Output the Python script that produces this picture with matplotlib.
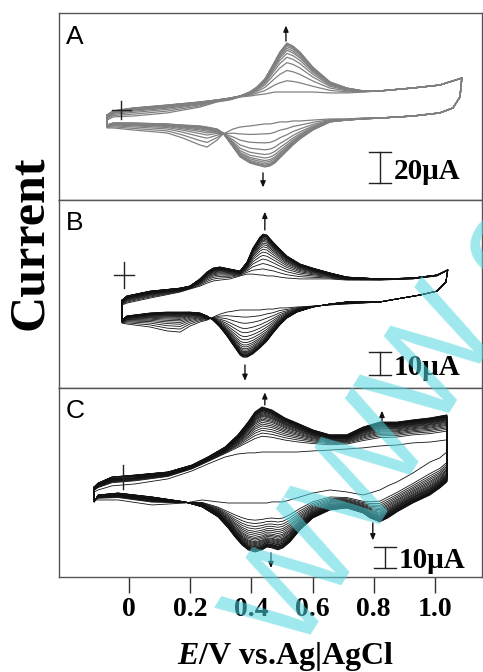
import numpy as np
import matplotlib
matplotlib.use("Agg")
import matplotlib.pyplot as plt

plt.rcParams["mathtext.fontset"] = "custom"
plt.rcParams["mathtext.it"] = "Liberation Serif:italic:bold"
plt.rcParams["mathtext.rm"] = "Liberation Serif:bold"

# ---- Panel A (gray curves), potential in V, current in uA ----
a_e_up = [-0.072, -0.052, 0.013, 0.124, 0.232, 0.288, 0.330, 0.363, 0.395, 0.418, 0.444, 0.461,
          0.477, 0.493, 0.516, 0.536, 0.559, 0.601, 0.657, 0.712, 0.765, 0.820, 0.928, 1.016, 1.088]
a_up_first = [-6.5, -4.5, -3.9, -1.9, 1.9, 5.2, 6.5, 8.4, 9.0, 9.7, 10.3, 11.0,
              11.6, 11.6, 11.6, 11.6, 11.6, 11.6, 11.0, 11.0, 11.6, 12.3, 14.2, 16.1, 20.6]
a_up_last = [-3.2, -0.6, 1.3, 3.2, 5.2, 6.5, 7.7, 9.0, 11.6, 14.8, 20.0, 25.8,
             31.6, 37.4, 43.2, 41.3, 37.4, 27.7, 18.1, 14.2, 12.3, 12.3, 14.2, 16.1, 20.6]
a_e_dn = [1.088, 1.082, 1.059, 1.016, 0.928, 0.820, 0.765, 0.712, 0.657, 0.601, 0.559, 0.536, 0.516,
          0.493, 0.477, 0.461, 0.444, 0.418, 0.395, 0.363, 0.340, 0.307, 0.288, 0.255, 0.232, 0.176,
          0.124, 0.013, -0.052, -0.072]
a_dn_first = [20.6, 8.4, 1.3, -1.9, -3.9, -5.2, -5.2, -5.8, -5.8, -6.5, -7.1, -7.1, -7.7,
              -7.7, -8.4, -9.0, -9.0, -9.7, -10.3, -11.0, -12.3, -15.5, -19.4, -23.9, -22.6, -18.1,
              -14.8, -12.9, -11.6, -11.6]
a_dn_last = [20.6, 8.4, 1.3, -1.9, -3.9, -5.2, -5.8, -6.5, -7.7, -12.9, -18.7, -22.6, -26.5,
             -31.0, -34.2, -36.1, -36.8, -35.5, -34.2, -30.3, -23.9, -14.8, -12.3, -11.0, -10.3, -9.7,
             -9.0, -8.4, -8.4, -9.7]
a_cycles = [0, 0.23, 0.44, 0.60, 0.71, 0.79, 0.85, 0.89, 0.93, 0.96, 0.98, 1.0]

# ---- Panel B ----
b_e_up = [-0.023, -0.007, 0.069, 0.167, 0.199, 0.232, 0.255, 0.275, 0.297, 0.330, 0.363, 0.386, 0.405,
          0.428, 0.438, 0.451, 0.471, 0.493, 0.516, 0.559, 0.601, 0.657, 0.712, 0.820, 0.928, 1.007, 1.042]
b_up_first = [-13.0, -12.2, -10.0, -7.4, -6.1, -4.8, -3.5, -2.6, -2.2, -1.7, -0.4, 0.4, 0.4,
              0.0, 0.0, -0.4, -0.4, -0.9, -1.3, -1.7, -1.7, -1.7, -2.2, -2.2, -1.7, -0.4, 2.2]
b_up_last = [-10.9, -9.1, -7.0, -5.7, -4.8, -1.7, 1.3, 3.0, 3.5, 2.6, 1.7, 5.7, 11.7,
             16.5, 17.8, 17.4, 14.3, 11.3, 8.3, 4.8, 3.0, 0.9, -0.9, -1.7, -1.3, 0.0, 2.2]
b_e_dn = [1.042, 1.036, 1.007, 0.951, 0.876, 0.820, 0.765, 0.712, 0.657, 0.601, 0.549, 0.516, 0.493,
          0.471, 0.451, 0.428, 0.405, 0.386, 0.373, 0.363, 0.340, 0.320, 0.297, 0.275, 0.255, 0.232,
          0.199, 0.167, 0.124, 0.069, -0.007, -0.023]
b_dn_first = [2.2, -3.0, -7.0, -8.7, -10.4, -11.7, -12.2, -12.6, -13.0, -13.5, -13.9, -14.3, -14.3,
              -14.8, -14.8, -15.2, -15.2, -15.2, -15.2, -15.2, -15.7, -16.1, -17.0, -18.3, -19.6, -20.4,
              -22.2, -24.8, -24.3, -22.6, -21.3, -20.9]
b_dn_last = [2.2, -3.0, -7.0, -8.7, -10.4, -11.7, -11.7, -11.7, -12.6, -13.9, -16.1, -18.7, -21.7,
             -25.2, -28.7, -31.7, -34.3, -35.7, -35.7, -34.8, -30.4, -26.5, -22.6, -19.6, -17.8, -16.5,
             -16.1, -16.1, -16.1, -16.5, -17.8, -19.6]
b_cycles = [0, 0.15, 0.28, 0.39, 0.48, 0.56, 0.63, 0.69, 0.74, 0.78, 0.82, 0.85, 0.88,
            0.90, 0.92, 0.94, 0.95, 0.96, 0.97, 0.98, 0.99, 1.0]

# ---- Panel C ----
c_e_up = [-0.114, -0.101, -0.056, 0.020, 0.127, 0.206, 0.258, 0.314, 0.356, 0.389, 0.412, 0.435,
          0.467, 0.510, 0.549, 0.601, 0.657, 0.712, 0.765, 0.820, 0.876, 0.928, 0.984, 1.039]
c_up_first = [-6.9, -6.0, -4.1, -3.2, -0.9, 2.8, 6.0, 9.2, 10.6, 11.1, 11.1, 11.5,
              11.5, 11.5, 11.5, 12.0, 12.4, 12.9, 13.4, 14.3, 14.7, 15.7, 16.1, 17.1]
c_up_last = [-4.6, -2.8, 0.0, 0.9, 2.3, 5.5, 9.2, 13.8, 19.4, 25.3, 30.0, 32.3,
             30.9, 27.2, 24.9, 21.7, 19.4, 19.4, 23.0, 25.3, 25.3, 26.3, 27.2, 28.6]
c_e_dn = [1.039, 1.039, 1.016, 0.984, 0.928, 0.876, 0.846, 0.820, 0.788, 0.765, 0.712, 0.657, 0.601,
          0.559, 0.526, 0.503, 0.487, 0.467, 0.451, 0.435, 0.412, 0.389, 0.369, 0.346, 0.324, 0.291,
          0.239, 0.183, 0.075, -0.036, -0.101, -0.114]
c_dn_first = [17.1, 11.5, 8.8, 6.9, 1.8, -2.3, -4.1, -6.0, -7.4, -8.3, -6.9, -6.0, -7.4,
              -9.2, -10.6, -11.5, -11.5, -11.5, -12.0, -12.0, -12.0, -12.0, -12.0, -12.0, -12.0, -11.5,
              -10.6, -12.0, -12.9, -10.6, -10.6, -10.6]
c_dn_last = [28.6, -2.3, -5.1, -8.3, -12.0, -16.1, -18.9, -20.7, -18.9, -16.6, -14.3, -15.2, -18.9,
             -24.4, -30.0, -32.7, -33.6, -32.7, -32.3, -33.6, -34.6, -33.6, -31.3, -27.6, -23.5, -18.4,
             -13.8, -11.5, -9.2, -7.4, -8.3, -11.5]
c_cycles = [0, 0.35, 0.42, 0.48, 0.53, 0.58, 0.62, 0.66, 0.70, 0.73, 0.76, 0.79, 0.81, 0.83,
            0.85, 0.87, 0.89, 0.90, 0.92, 0.93, 0.94, 0.95, 0.96, 0.97, 0.98, 0.99, 1.0]

tick_vals = [0, 0.2, 0.4, 0.6, 0.8, 1.0]
tick_labels = ["0", "0.2", "0.4", "0.6", "0.8", "1.0"]

SERIF = "Liberation Serif"
SANS = "Liberation Sans"
W, H = 483, 672


def draw_cycles(ax, e_up, up0, up1, e_dn, dn0, dn1, weights, color, lw):
    e = np.concatenate([e_up, e_dn, e_up[:1]])
    for w in weights:
        up = np.array(up0) + w * (np.array(up1) - np.array(up0))
        dn = np.array(dn0) + w * (np.array(dn1) - np.array(dn0))
        i = np.concatenate([up, dn, up[:1]])
        ax.plot(e, i, color=color, lw=lw, solid_joinstyle="round")


def cross(ax, e, i, hw, hh):
    ax.plot([e - hw, e + hw], [i, i], color="#222222", lw=1.0)
    ax.plot([e, e], [i - hh, i + hh], color="#222222", lw=1.0)


def arrow(ax, e, i0, i1):
    ax.annotate("", xy=(e, i1), xytext=(e, i0),
                arrowprops=dict(arrowstyle="-|>,head_length=0.35,head_width=0.15",
                                color="#111111", lw=1.0, shrinkA=0, shrinkB=0))


def scale_bar(ax, e, i0, i1, hw, label, te, ti):
    ax.plot([e, e], [i0, i1], color="#222222", lw=1.0)
    ax.plot([e - hw, e + hw], [i0, i0], color="#222222", lw=1.0)
    ax.plot([e - hw, e + hw], [i1, i1], color="#222222", lw=1.0)
    ax.text(te, ti, label, family=SERIF, weight="bold", fontsize=21, ha="left", va="center")


fig = plt.figure(figsize=(W / 100, H / 100), dpi=100)


def make_axes(top, bottom, ylim):
    ax = fig.add_axes([59 / W, 1 - bottom / H, 423 / W, (bottom - top) / H])
    ax.set_xlim(-0.229, 1.154)
    ax.set_ylim(*ylim)
    for s in ax.spines.values():
        s.set_color("#555555")
        s.set_linewidth(1.0)
    ax.set_yticks([])
    return ax


axA = make_axes(13, 200, (-58.1, 62.6))
axB = make_axes(200, 388, (-49.1, 32.6))
axC = make_axes(388, 577, (-46.1, 41.0))
for ax in (axA, axB):
    ax.set_xticks([])

draw_cycles(axA, a_e_up, a_up_first, a_up_last, a_e_dn, a_dn_first, a_dn_last, a_cycles, "#808080", 0.9)
draw_cycles(axB, b_e_up, b_up_first, b_up_last, b_e_dn, b_dn_first, b_dn_last, b_cycles, "#111111", 0.6)
draw_cycles(axC, c_e_up, c_up_first, c_up_last, c_e_dn, c_dn_first, c_dn_last, c_cycles, "#111111", 0.6)

cross(axA, -0.026, 0, 0.031, 6.0)
cross(axB, -0.016, 0, 0.033, 5.5)
cross(axC, -0.020, 0, 0.036, 5.5)

arrow(axA, 0.513, 44.5, 54.5)
arrow(axA, 0.438, -40.6, -50.0)
arrow(axB, 0.444, 19.6, 27.5)
arrow(axB, 0.379, -39.1, -46.0)
arrow(axC, 0.444, 33.2, 39.0)
arrow(axC, 0.827, 25.3, 30.5)
arrow(axC, 0.797, -21.2, -29.2)
arrow(axC, 0.464, -35.0, -42.0)

scale_bar(axA, 0.820, -27.1, -47.1, 0.037, "20\u03bcA", 0.864, -40.0)
scale_bar(axB, 0.820, -33.5, -43.5, 0.036, "10\u03bcA", 0.864, -40.0)
scale_bar(axC, 0.837, -32.3, -41.9, 0.036, "10\u03bcA", 0.880, -38.5)

for ax, lab, yy in ((axA, "A", 0.869), (axB, "B", 0.880), (axC, "C", 0.878)):
    ax.text(0.016, yy, lab, transform=ax.transAxes, family=SANS, fontsize=19,
            ha="left", va="center")

axC.set_xticks(tick_vals)
axC.set_xticklabels(tick_labels, family=SERIF, weight="bold", fontsize=20)
axC.tick_params(axis="x", direction="out", length=11.5, width=1.0, color="#333333", pad=3)

fig.text(285 / W, 1 - 664 / H, r"$\mathit{E}$/V vs.Ag|AgCl", family=SERIF, weight="bold",
         fontsize=23, ha="center", va="baseline")
fig.text(30 / W, 1 - 243 / H, "Current", family=SERIF, weight="bold", fontsize=36,
         rotation=90, ha="center", va="center")

# cyan watermark of the source image
fig.text(210 / W, 1 - 645 / H, "WWW.c", family=SANS, fontsize=100,
         rotation=58, color="#4fd6df", alpha=0.55, ha="left", va="baseline")

fig.savefig("out.png", dpi=100)
